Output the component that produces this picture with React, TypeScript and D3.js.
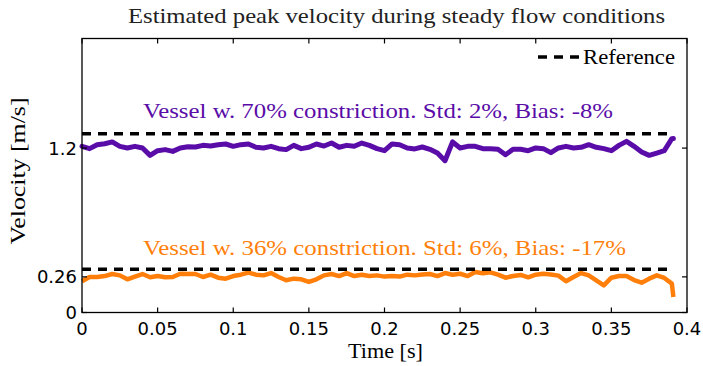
import React from 'react';
import * as d3 from 'd3';

const timeS = [
  0, 0.005, 0.01, 0.015, 0.02, 0.025, 0.03, 0.035, 0.04, 0.045,
  0.05, 0.055, 0.06, 0.065, 0.07, 0.075, 0.08, 0.085, 0.09, 0.095,
  0.1, 0.105, 0.11, 0.115, 0.12, 0.125, 0.13, 0.135, 0.14, 0.145,
  0.15, 0.155, 0.16, 0.165, 0.17, 0.175, 0.18, 0.185, 0.19, 0.195,
  0.2, 0.205, 0.21, 0.215, 0.22, 0.225, 0.23, 0.235, 0.24, 0.245,
  0.25, 0.255, 0.26, 0.265, 0.27, 0.275, 0.28, 0.285, 0.29, 0.295,
  0.3, 0.305, 0.31, 0.315, 0.32, 0.325, 0.33, 0.335, 0.34, 0.345,
  0.35, 0.355, 0.36, 0.365, 0.37, 0.375, 0.38, 0.385, 0.39, 0.391,
];

const vessel70 = [
  1.213, 1.196, 1.225, 1.232, 1.245, 1.213, 1.201, 1.213, 1.201, 1.147,
  1.181, 1.189, 1.176, 1.201, 1.21, 1.208, 1.22, 1.215, 1.225, 1.23,
  1.213, 1.225, 1.23, 1.206, 1.201, 1.213, 1.196, 1.189, 1.22, 1.196,
  1.206, 1.23, 1.215, 1.237, 1.206, 1.22, 1.213, 1.237, 1.22, 1.196,
  1.181, 1.23, 1.225, 1.201, 1.194, 1.208, 1.191, 1.164, 1.108, 1.245,
  1.201, 1.213, 1.213, 1.196, 1.196, 1.191, 1.152, 1.191, 1.191, 1.181,
  1.201, 1.196, 1.167, 1.201, 1.213, 1.201, 1.206, 1.225, 1.206, 1.196,
  1.181, 1.22, 1.249, 1.213, 1.172, 1.147, 1.164, 1.181, 1.269, 1.27,
];

const vessel36 = [
  0.228, 0.259, 0.259, 0.266, 0.281, 0.271, 0.242, 0.262, 0.281, 0.257,
  0.266, 0.257, 0.259, 0.283, 0.281, 0.281, 0.259, 0.276, 0.254, 0.247,
  0.266, 0.276, 0.291, 0.276, 0.271, 0.288, 0.259, 0.235, 0.247, 0.242,
  0.223, 0.242, 0.271, 0.281, 0.266, 0.288, 0.266, 0.276, 0.266, 0.271,
  0.262, 0.266, 0.262, 0.276, 0.271, 0.278, 0.281, 0.266, 0.288, 0.276,
  0.283, 0.266, 0.296, 0.286, 0.293, 0.276, 0.254, 0.266, 0.274, 0.257,
  0.276, 0.283, 0.278, 0.269, 0.228, 0.259, 0.288, 0.271, 0.235, 0.198,
  0.254, 0.266, 0.266, 0.237, 0.218, 0.247, 0.271, 0.252, 0.211, 0.113,
];

const reference70 = 1.305;
const reference36 = 0.315;
const referenceSpan = [0, 0.39];

const xTicks = [0, 0.05, 0.1, 0.15, 0.2, 0.25, 0.3, 0.35, 0.4];
const xTickLabels = ['0', '0.05', '0.1', '0.15', '0.2', '0.25', '0.3', '0.35', '0.4'];
const yTicks = [0, 0.26, 1.2];
const yTickLabels = ['0', '0.26', '1.2'];

const titleText = 'Estimated peak velocity during steady flow conditions';
const label70 = 'Vessel w. 70% constriction. Std: 2%, Bias: -8%';
const label36 = 'Vessel w. 36% constriction. Std: 6%, Bias: -17%';
const legendText = 'Reference';
const xLabel = 'Time [s]';
const yLabel = 'Velocity [m/s]';

const PURPLE = '#5a0ca8';
const ORANGE = '#ff7f0a';
const SERIF = 'Liberation Serif, DejaVu Serif, serif';
const SANS = 'DejaVu Sans, sans-serif';

export default function App() {
  const W = 703;
  const H = 366;
  const left = 82, right = 687, top = 38.5, bottom = 312.5;
  const x = d3.scaleLinear().domain([0, 0.4]).range([left, right]);
  const y = d3.scaleLinear().domain([0, 2]).range([bottom, top]);

  const line = d3
    .line<number>()
    .x((_, i) => x(timeS[i]))
    .y((d) => y(d));

  const tickLen = 5;

  return (
    <svg
      width={W}
      height={H}
      viewBox={`0 0 ${W} ${H}`}
      style={{ position: 'absolute', left: 0, top: 0, background: '#fff' }}
    >
      <rect x={0} y={0} width={W} height={H} fill="#fff" />

      <path d={line(vessel70) || ''} fill="none" stroke={PURPLE} strokeWidth={5} strokeLinejoin="round" strokeLinecap="round" />
      <path d={line(vessel36) || ''} fill="none" stroke={ORANGE} strokeWidth={4.5} strokeLinejoin="round" strokeLinecap="butt" />

      {[reference70, reference36].map((r, i) => (
        <line
          key={i}
          x1={x(referenceSpan[0])}
          x2={x(referenceSpan[1])}
          y1={y(r)}
          y2={y(r)}
          stroke="#000"
          strokeWidth={3.5}
          strokeDasharray="9 7"
        />
      ))}

      <rect x={left} y={top} width={right - left} height={bottom - top} fill="none" stroke="#000" strokeWidth={1.3} />

      {xTicks.map((t, i) => (
        <g key={'xt' + i}>
          <line x1={x(t)} x2={x(t)} y1={bottom} y2={bottom - tickLen} stroke="#000" strokeWidth={1.2} />
          <line x1={x(t)} x2={x(t)} y1={top} y2={top + tickLen} stroke="#000" strokeWidth={1.2} />
          <text x={x(t)} y={335} textAnchor="middle" style={{ fontFamily: SANS, fontSize: 18 }} fill="#000">
            {xTickLabels[i]}
          </text>
        </g>
      ))}

      {yTicks.map((t, i) => (
        <g key={'yt' + i}>
          <line x1={left} x2={left + tickLen} y1={y(t)} y2={y(t)} stroke="#000" strokeWidth={1.2} />
          <line x1={right} x2={right - tickLen} y1={y(t)} y2={y(t)} stroke="#000" strokeWidth={1.2} />
          <text x={77} y={y(t)} dy="0.36em" textAnchor="end" style={{ fontFamily: SANS, fontSize: 18 }} fill="#000">
            {yTickLabels[i]}
          </text>
        </g>
      ))}

      <text x={128} y={23} style={{ fontFamily: SERIF, fontSize: 21 }} fill="#222" textLength={537} lengthAdjust="spacingAndGlyphs">
        {titleText}
      </text>

      <text x={143} y={118} style={{ fontFamily: SERIF, fontSize: 21 }} fill={PURPLE} textLength={470} lengthAdjust="spacingAndGlyphs">
        {label70}
      </text>
      <text x={143} y={255} style={{ fontFamily: SERIF, fontSize: 21 }} fill={ORANGE} textLength={483} lengthAdjust="spacingAndGlyphs">
        {label36}
      </text>

      <line x1={538} x2={579} y1={57} y2={57} stroke="#000" strokeWidth={3.5} strokeDasharray="9 7" />
      <text x={583} y={64} style={{ fontFamily: SERIF, fontSize: 21 }} fill="#000" textLength={92} lengthAdjust="spacingAndGlyphs">
        {legendText}
      </text>

      <text x={348} y={358} style={{ fontFamily: SERIF, fontSize: 21 }} fill="#000" textLength={75} lengthAdjust="spacingAndGlyphs">
        {xLabel}
      </text>
      <text
        transform={`translate(25, 171) rotate(-90)`}
        textAnchor="middle"
        style={{ fontFamily: SERIF, fontSize: 21 }}
        fill="#000"
        textLength={147}
        lengthAdjust="spacingAndGlyphs"
      >
        {yLabel}
      </text>
    </svg>
  );
}
